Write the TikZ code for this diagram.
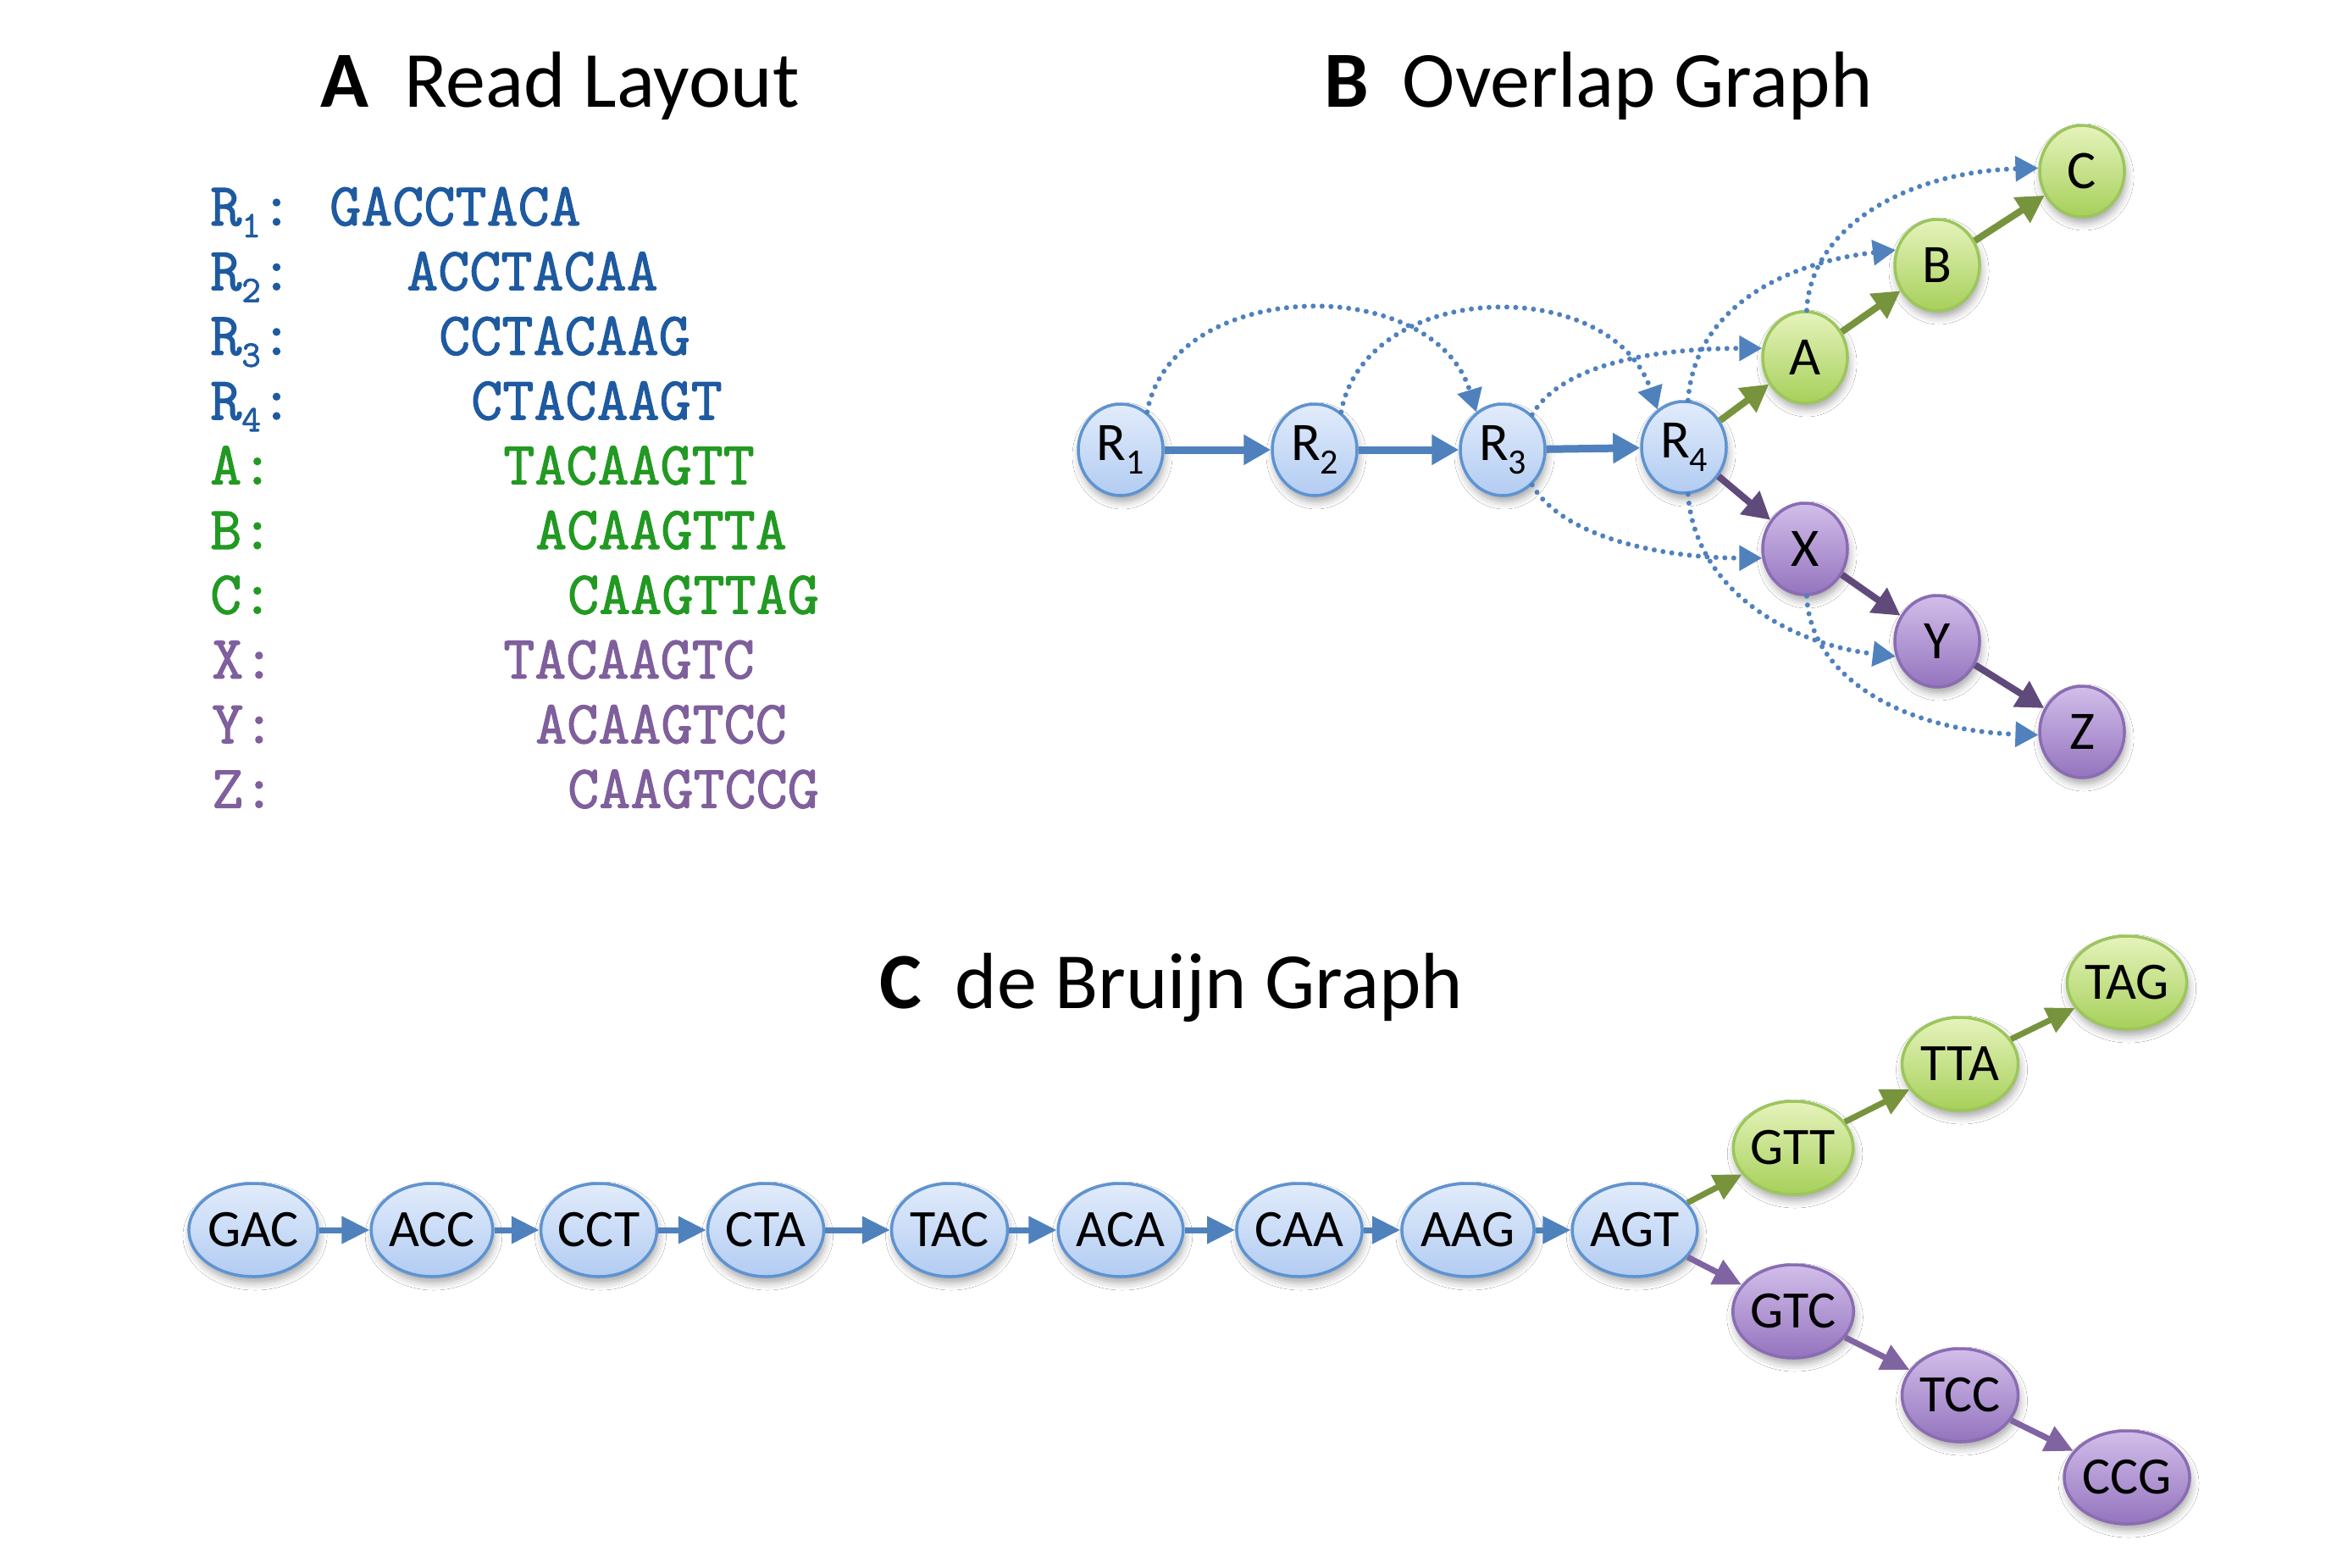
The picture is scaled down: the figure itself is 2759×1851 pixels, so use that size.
\documentclass[tikz,border=0pt]{standalone}
\usepackage{fontspec}
\setmainfont{Carlito}
\newfontfamily\seqfont{Latin Modern Mono}[FakeBold=1.6]
\usetikzlibrary{shapes.geometric,arrows.meta,shadows.blur}
\definecolor{txtblue}{HTML}{1E5AA0}
\definecolor{txtgreen}{HTML}{229922}
\definecolor{txtpurple}{HTML}{7F5F9C}
\definecolor{arrblue}{HTML}{4F81BD}
\definecolor{arrgreen}{HTML}{77933C}
\definecolor{arrpurpledark}{HTML}{604A7B}
\definecolor{arrpurple}{HTML}{8064A2}
\definecolor{bluetop}{HTML}{E2ECFB}
\definecolor{bluebot}{HTML}{B2CCF2}
\definecolor{blueline}{HTML}{5E93D1}
\definecolor{greentop}{HTML}{E6F3BC}
\definecolor{greenbot}{HTML}{A6D05A}
\definecolor{greenline}{HTML}{9CC65C}
\definecolor{purptop}{HTML}{D2BEEA}
\definecolor{purpbot}{HTML}{9474BE}
\definecolor{purpline}{HTML}{8A6CB3}
\tikzset{
  title/.style={anchor=base west, inner sep=0pt, font=\fontsize{94}{100}\selectfont},
  seqlabel/.style={anchor=base west, inner sep=0pt, font=\seqfont\fontsize{72}{72}\selectfont},
  shade/.style={blur shadow={shadow xshift=2pt, shadow yshift=-7pt, shadow blur radius=9pt, shadow opacity=35}},
  ovnode/.style={ellipse, minimum width=100pt, minimum height=108pt, inner sep=0pt, line width=3.5pt, shade, font=\fontsize{64}{64}\selectfont},
  dbnode/.style={ellipse, minimum width=137pt, minimum height=110pt, inner sep=0pt, line width=3.5pt, shade, font=\fontsize{62}{62}\selectfont},
  bluefill/.style={draw=blueline, top color=bluetop, bottom color=bluebot},
  greenfill/.style={draw=greenline, top color=greentop, bottom color=greenbot},
  purpfill/.style={draw=purpline, top color=purptop, bottom color=purpbot},
  ovarrow/.style={line width=9pt, -{Triangle[length=32pt,width=34pt]}},
  dbarrow/.style={line width=7pt, -{Triangle[length=33pt,width=31pt]}},
  dotarrow/.style={draw=arrblue, line width=6pt, dash pattern=on 0pt off 10.5pt, line cap=round, -{Triangle[length=27pt,width=29pt,fill=arrblue]}},
}
\newcommand{\Rsub}[1]{R\raisebox{-16pt}{\fontsize{42}{42}\selectfont #1}}
\newcommand{\Rseq}[1]{R\raisebox{-14pt}{\fontsize{44}{44}\selectfont #1}:}
\begin{document}
\begin{tikzpicture}[x=1pt,y=-1pt]
\useasboundingbox (0,0) rectangle (2759,1851);
\fill[white] (0,0) rectangle (2759,1851);

% titles
\node[title] (tA) at (378,127) {\textbf{A}\hspace{42pt}Read Layout};
\node[title] (tB) at (1563,127) {\textbf{B}\hspace{40pt}Overlap Graph};
\node[title] (tC) at (1038,1190) {\textbf{C}\hspace{40pt}de Bruijn Graph};

% read layout
\node[seqlabel, txtblue] (l1) at (248,266) {\Rseq{1}};
\node[seqlabel, txtblue] (l2) at (248,342.4) {\Rseq{2}};
\node[seqlabel, txtblue] (l3) at (248,418.8) {\Rseq{3}};
\node[seqlabel, txtblue] (l4) at (248,495.2) {\Rseq{4}};
\node[seqlabel, txtgreen] (l5) at (248,571.6) {A:};
\node[seqlabel, txtgreen] (l6) at (248,648) {B:};
\node[seqlabel, txtgreen] (l7) at (248,724.4) {C:};
\node[seqlabel, txtpurple] (l8) at (250,800.8) {X:};
\node[seqlabel, txtpurple] (l9) at (250,877.2) {Y:};
\node[seqlabel, txtpurple] (l10) at (250,953.6) {Z:};
\node[seqlabel, txtblue] (s1) at (389,266) {GACCTACA};
\node[seqlabel, txtblue] (s2) at (480,342.4) {ACCTACAA};
\node[seqlabel, txtblue] (s3) at (518,418.8) {CCTACAAG};
\node[seqlabel, txtblue] (s4) at (556,495.2) {CTACAAGT};
\node[seqlabel, txtgreen] (s5) at (594,571.6) {TACAAGTT};
\node[seqlabel, txtgreen] (s6) at (632,648) {ACAAGTTA};
\node[seqlabel, txtgreen] (s7) at (670,724.4) {CAAGTTAG};
\node[seqlabel, txtpurple] (s8) at (594,800.8) {TACAAGTC};
\node[seqlabel, txtpurple] (s9) at (632,877.2) {ACAAGTCC};
\node[seqlabel, txtpurple] (s10) at (670,953.6) {CAAGTCCG};

% overlap graph nodes
\node[ovnode, bluefill] (R1) at (1323,531) {\Rsub{1}};
\node[ovnode, bluefill] (R2) at (1552,531) {\Rsub{2}};
\node[ovnode, bluefill] (R3) at (1774,531) {\Rsub{3}};
\node[ovnode, bluefill] (R4) at (1988,528) {\Rsub{4}};
\node[ovnode, greenfill] (A) at (2131,422) {A};
\node[ovnode, greenfill] (B) at (2287,313) {B};
\node[ovnode, greenfill] (C) at (2458,202) {C};
\node[ovnode, purpfill] (X) at (2131,648) {X};
\node[ovnode, purpfill] (Y) at (2287,757) {Y};
\node[ovnode, purpfill] (Z) at (2458,864) {Z};

% dotted overlaps
\draw[dotarrow] (R1.55) .. controls +(30,-160) and +(-50,-165) .. (R3.125);
\draw[dotarrow] (R2.55) .. controls +(30,-158) and +(-55,-160) .. (R4.125);
\draw[dotarrow] (R3.50) .. controls +(38,-65) and +(-110,0) .. (A.168);
\draw[dotarrow] (R4.85) .. controls +(8,-110) and +(-130,15) .. (B.160);
\draw[dotarrow] (A.88) .. controls +(4,-95) and +(-160,5) .. (C.176);
\draw[dotarrow] (R3.-50) .. controls +(38,65) and +(-110,0) .. (X.-168);
\draw[dotarrow] (R4.-85) .. controls +(8,110) and +(-130,-15) .. (Y.-160);
\draw[dotarrow] (X.-88) .. controls +(4,95) and +(-160,-5) .. (Z.-176);

% solid overlaps
\draw[ovarrow, arrblue] (R1) -- (R2);
\draw[ovarrow, arrblue] (R2) -- (R3);
\draw[ovarrow, arrblue] (R3) -- (R4);
\draw[ovarrow, arrgreen, line width=8pt] (R4) -- (A);
\draw[ovarrow, arrgreen, line width=8pt] (A) -- (B);
\draw[ovarrow, arrgreen, line width=8pt] (B) -- (C);
\draw[ovarrow, arrpurpledark, line width=8pt] (R4) -- (X);
\draw[ovarrow, arrpurpledark, line width=8pt] (X) -- (Y);
\draw[ovarrow, arrpurpledark, line width=8pt] (Y) -- (Z);

% de Bruijn nodes
\node[dbnode, bluefill] (GAC) at (299,1452) {GAC};
\node[dbnode, bluefill] (ACC) at (510,1452) {ACC};
\node[dbnode, bluefill] (CCT) at (707,1452) {CCT};
\node[dbnode, bluefill] (CTA) at (904,1452) {CTA};
\node[dbnode, bluefill] (TAC) at (1121,1452) {TAC};
\node[dbnode, bluefill] (ACA) at (1323,1452) {ACA};
\node[dbnode, bluefill] (CAA) at (1534,1452) {CAA};
\node[dbnode, bluefill] (AAG) at (1733,1452) {AAG};
\node[dbnode, bluefill] (AGT) at (1930,1452) {AGT};
\node[dbnode, greenfill] (GTT) at (2117,1355) {GTT};
\node[dbnode, greenfill] (TTA) at (2314,1256) {TTA};
\node[dbnode, greenfill] (TAG) at (2511,1160) {TAG};
\node[dbnode, purpfill] (GTC) at (2117,1548) {GTC};
\node[dbnode, purpfill] (TCC) at (2314,1647) {TCC};
\node[dbnode, purpfill] (CCG) at (2511,1744) {CCG};

\draw[dbarrow, arrblue] (GAC) -- (ACC);
\draw[dbarrow, arrblue] (ACC) -- (CCT);
\draw[dbarrow, arrblue] (CCT) -- (CTA);
\draw[dbarrow, arrblue] (CTA) -- (TAC);
\draw[dbarrow, arrblue] (TAC) -- (ACA);
\draw[dbarrow, arrblue] (ACA) -- (CAA);
\draw[dbarrow, arrblue] (CAA) -- (AAG);
\draw[dbarrow, arrblue] (AAG) -- (AGT);
\draw[dbarrow, arrgreen] (AGT) -- (GTT);
\draw[dbarrow, arrgreen] (GTT) -- (TTA);
\draw[dbarrow, arrgreen] (TTA) -- (TAG);
\draw[dbarrow, arrpurple] (AGT) -- (GTC);
\draw[dbarrow, arrpurple] (GTC) -- (TCC);
\draw[dbarrow, arrpurple] (TCC) -- (CCG);
\end{tikzpicture}
\end{document}
